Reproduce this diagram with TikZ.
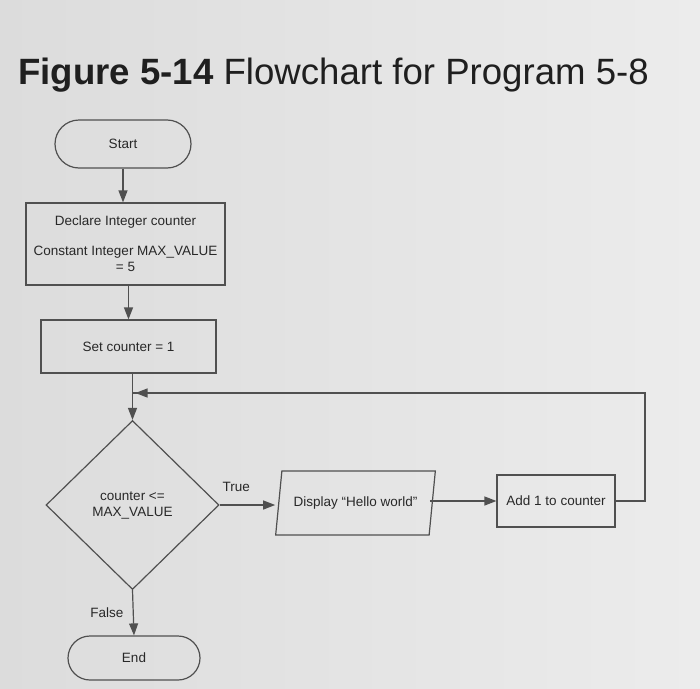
\documentclass[tikz,border=0pt]{standalone}
\usepackage{fontspec}
\setmainfont{Liberation Sans}
\usetikzlibrary{shapes.geometric,shapes.misc,arrows.meta}
\definecolor{bg}{RGB}{220,220,220}
\definecolor{bgl}{RGB}{236,236,236}
\definecolor{ln}{RGB}{80,80,80}
\definecolor{tx}{RGB}{40,40,40}
\tikzset{
  every node/.style={text=tx,font=\fontsize{13.5}{16}\selectfont},
  conn/.style={draw=ln,line width=1.2pt},
  arr/.style={conn,-{Triangle[length=12pt,width=9pt]}},
  boxs/.style={draw=ln,line width=1.2pt,rectangle,inner sep=0pt},
  term/.style={draw=ln,line width=1.2pt,rounded rectangle,inner sep=0pt},
}
\begin{document}
\begin{tikzpicture}[x=1pt,y=-1pt]
\shade[left color=bg,right color=bgl] (0,0) rectangle (700,688);
\useasboundingbox (0,0) rectangle (700,688);
% title
\node[anchor=base west,inner sep=0pt,text=black!88,font=\fontsize{36.6}{40}\selectfont] (title) at (18,84) {\textbf{Figure 5-14} Flowchart for Program 5-8};
% nodes
\node[term,minimum width=136pt,minimum height=48pt] (start) at (123,144) {Start};
\node[boxs,minimum width=199pt,minimum height=82pt,align=center] (decl) at (125.5,244) {Declare Integer counter\\[14pt]Constant Integer MAX\_VALUE\\= 5};
\node[boxs,minimum width=175pt,minimum height=53pt] (set) at (128.5,346.5) {Set counter = 1};
\node[diamond,draw=ln,line width=1.2pt,minimum width=173pt,minimum height=169pt,inner sep=0pt,align=center,aspect=1] (dec) at (132.5,505) {counter <=\\MAX\_VALUE};
\node[trapezium,trapezium left angle=72,trapezium right angle=108,draw=ln,line width=1.2pt,minimum height=64pt,minimum width=160pt,inner sep=2pt,trapezium stretches=true] (disp) at (355.5,503) {Display “Hello world”};
\node[boxs,minimum width=118pt,minimum height=52pt] (add) at (556,501) {Add 1 to counter};
\node[term,minimum width=132pt,minimum height=44pt] (endn) at (134,658) {End};
\coordinate (c1) at (645,501);
\coordinate (c2) at (645,393);
\coordinate (c3) at (132.5,393);
% connectors
\draw[arr] (start.south) -- (start.south |- decl.north);
\draw[arr] (decl.south) ++(3,0) coordinate (d1) -- (d1 |- set.north);
\draw[arr] (set.south -| dec.north) -- (dec.north);
\draw[arr] (dec.east) -- ([xshift=-3pt]dec.east -| disp.west) node[pos=0.3,above=9pt] (tl) {True};
\draw[arr] ([xshift=-3pt]disp.east |- add.west) -- (add.west);
\draw[conn] (add.east) -- (c1) -- (c2) -- (c3);
\draw[arr] (c2) -- ([xshift=3pt]c3);
\draw[arr] (dec.south) -- (endn.north) node[pos=0.5,left=6pt] (fl) {False};
\end{tikzpicture}
\end{document}
